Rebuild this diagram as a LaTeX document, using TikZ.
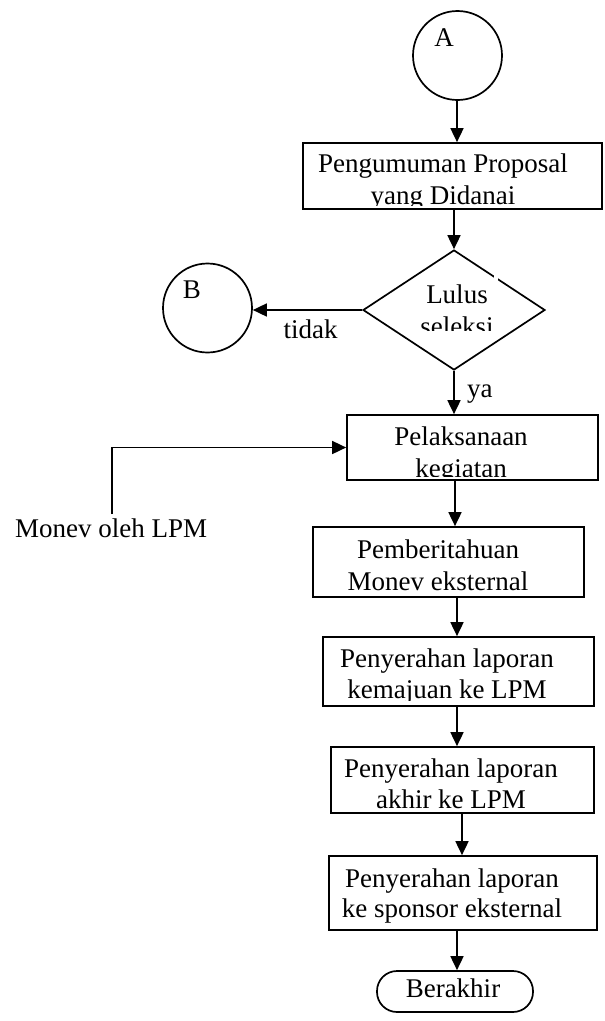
\documentclass[tikz,border=0pt]{standalone}
\usepackage{fontspec}
\setmainfont{Liberation Serif}
\usetikzlibrary{arrows.meta,shapes.geometric}
\begin{document}
\begin{tikzpicture}[x=1pt,y=-1pt,
  ln/.style={line width=1.7pt},
  arr/.style={ln,-{Triangle[length=14pt,width=13pt]}},
  circ/.style={ln,draw,circle,inner sep=0pt,minimum size=89pt},
  box/.style={ln,draw,rectangle,inner sep=0pt},
  dia/.style={ln,draw,diamond,inner sep=0pt},
  term/.style={ln,draw,rectangle,rounded corners=20pt,inner sep=0pt},
  lbl/.style={inner sep=0pt,anchor=base,font=\fontsize{27}{32}\selectfont}]
\useasboundingbox (0,0) rectangle (605,1021);

% column coordinates
\coordinate (c455) at (455,0);
\coordinate (c457) at (457,0);
\coordinate (c462) at (462,0);

% connectors A and B
\node[circ] (A) at (457.5,55.5) {};
\node[lbl] (Alab) at (444,46) {A};
\node[circ] (B) at (207.5,308) {};
\node[lbl] (Blab) at (192,298) {B};

% box 1
\node[box,minimum width=299pt,minimum height=66pt] (b1) at (452.5,176) {};
\node[lbl] (b1a) at (443,172) {Pengumuman Proposal};
\begin{scope}
\clip (304,150) rectangle (601,205.5);
\node[lbl] (b1b) at (443,204) {yang Didanai};
\end{scope}

% decision
\node[dia,minimum width=182pt,minimum height=120pt] (d) at (454,310) {};
\fill[white] (493.5,273) rectangle (498,283);
\node[lbl] (da) at (457,303) {Lulus};
\begin{scope}
\clip (400,312) rectangle (520,330);
\node[lbl] (db) at (457,335) {seleksi};
\end{scope}
\node[lbl] (tidak) at (310.5,338) {tidak};
\node[lbl,anchor=base west] (ya) at (467,397) {ya};

% box 2
\node[box,minimum width=251pt,minimum height=65pt] (b2) at (472.5,447.5) {};
\node[lbl] (b2a) at (461,445) {Pelaksanaan};
\begin{scope}
\clip (348,450) rectangle (597,476.5);
\node[lbl] (b2b) at (461,477) {kegiatan};
\end{scope}

% Monev oleh LPM
\node[lbl,anchor=base west] (monev) at (15,537) {Monev oleh LPM};
\coordinate (m0) at (112,514);

% box 3
\node[box,minimum width=271pt,minimum height=70pt] (b3) at (448.5,562) {};
\node[lbl] (b3a) at (438,558) {Pemberitahuan};
\node[lbl] (b3b) at (438,590) {Monev eksternal};

% box 4
\node[box,minimum width=271pt,minimum height=69pt] (b4) at (458.5,671.5) {};
\node[lbl] (b4a) at (447,667) {Penyerahan laporan};
\begin{scope}
\clip (324,675) rectangle (593,700.5);
\node[lbl] (b4b) at (447,698) {kemajuan ke LPM};
\end{scope}

% box 5
\node[box,minimum width=263pt,minimum height=66pt] (b5) at (462.5,780) {};
\node[lbl] (b5a) at (451,777) {Penyerahan laporan};
\begin{scope}
\clip (332,785) rectangle (593,809);
\node[lbl] (b5b) at (451,808) {akhir ke LPM};
\end{scope}

% box 6
\node[box,minimum width=268pt,minimum height=74pt] (b6) at (463,893) {};
\node[lbl] (b6a) at (452,887) {Penyerahan laporan};
\node[lbl] (b6b) at (452,917) {ke sponsor eksternal};

% terminator
\node[term,minimum width=156pt,minimum height=41pt] (t) at (455,991.5) {};
\node[lbl] (tl) at (453,997) {Berakhir};

% connectors
\draw[arr] (A.south -| c457) -- (b1.north -| c457);
\draw[arr] (b1.south -| d.north) -- (d.north);
\draw[arr] (d.west) -- (d.west -| B.east);
\draw[arr] (d.south) -- (d.south |- b2.north);
\draw[arr] (m0) |- (b2.west);
\draw[arr] (b2.south -| c455) -- (b3.north -| c455);
\draw[arr] (b3.south -| c457) -- (b4.north -| c457);
\draw[arr] (b4.south -| c457) -- (b5.north -| c457);
\draw[arr] (b5.south -| c462) -- (b6.north -| c462);
\draw[arr] (b6.south -| c457) -- (t.north -| c457);
\end{tikzpicture}
\end{document}
